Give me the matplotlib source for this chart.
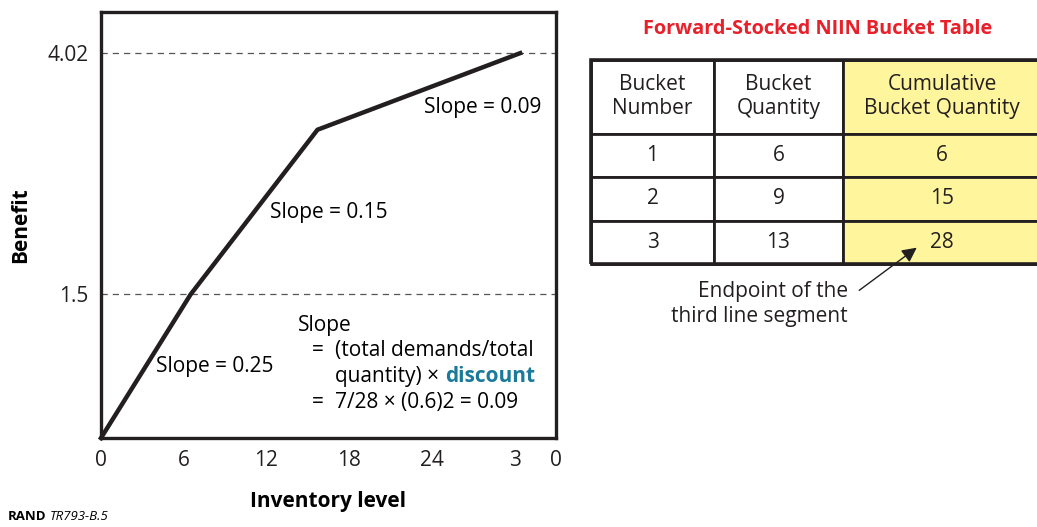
import matplotlib.pyplot as plt
from matplotlib.patches import Rectangle, FancyArrowPatch

plt.rcParams["font.family"] = ["Open Sans", "DejaVu Sans"]

# piecewise benefit curve
inv_level = [0, 6.5, 15.7, 30.4]
benefit = [0, 1.5, 3.22, 4.02]
ref_levels = [1.5, 4.02]

x_ticks = [0, 6, 12, 18, 24, 30, 33]
x_tick_labels = ["0", "6", "12", "18", "24", "3", "0"]

# bucket table
col_headers = ["Bucket\nNumber", "Bucket\nQuantity", "Cumulative\nBucket Quantity"]
bucket_number = ["1", "2", "3"]
bucket_qty = ["6", "9", "13"]
cum_qty = ["6", "15", "28"]

W, H = 1037, 527
fig = plt.figure(figsize=(W / 100, H / 100), dpi=100)
ax = fig.add_axes([101 / W, 1 - 438 / H, 455 / W, 426 / H])

ax.plot(inv_level, benefit, color="#231f20", lw=3.2, solid_joinstyle="miter",
        clip_on=False, zorder=3)
for lvl in ref_levels:
    ax.axhline(lvl, color="#555555", lw=0.9, ls=(0, (5, 4)), zorder=1)

fs = 15

ax.set_xlim(0, 33)
ax.set_ylim(0, 4.45)
ax.set_xticks(x_ticks)
ax.set_xticklabels(x_tick_labels)
ax.set_yticks(ref_levels)
ax.set_yticklabels(["1.5", "4.02"])
ax.tick_params(length=0, labelsize=fs, pad=9, colors="#231f20")
for sp in ax.spines.values():
    sp.set_linewidth(2.4)
    sp.set_color("#231f20")
ax.set_xlabel("Inventory level", fontsize=fs, fontweight="bold", labelpad=14)
ax.set_ylabel("Benefit", fontsize=fs, fontweight="bold", labelpad=12)

ax.text(23.4, 3.45, "Slope = 0.09", fontsize=fs, va="center")
ax.text(12.25, 2.36, "Slope = 0.15", fontsize=fs, va="center")
ax.text(4.0, 0.75, "Slope = 0.25", fontsize=fs, va="center")
ax.text(14.3, 1.17, "Slope", fontsize=fs, va="center")
ax.text(15.3, 0.91, "=", fontsize=fs, va="center")
ax.text(17.0, 0.91, "(total demands/total", fontsize=fs, va="center")
t1 = ax.text(17.0, 0.64, "quantity) × ", fontsize=fs, va="center")
ax.annotate("discount", xy=(1, 0), xycoords=t1, va="bottom", fontsize=fs,
            fontweight="bold", color="#1b7a9c")
ax.text(15.3, 0.37, "=", fontsize=fs, va="center")
ax.text(17.0, 0.37, "7/28 × (0.6)2 = 0.09", fontsize=fs, va="center")

# table (right edge runs off the page as in the original)
fig.text(818 / W, 1 - 29 / H, "Forward-Stocked NIIN Bucket Table", color="#e8202a",
         fontsize=14.3, fontweight="bold", ha="center", va="center")
tab_ax = fig.add_axes([591 / W, 1 - 264 / H, 450 / W, 204 / H])
tab_ax.axis("off")
rows = [list(r) for r in zip(bucket_number, bucket_qty, cum_qty)]
tbl = tab_ax.table(cellText=rows, colLabels=col_headers, cellLoc="center",
                   colWidths=[123, 129, 198], bbox=[0, 0, 1, 1])
tbl.auto_set_font_size(False)
tbl.set_fontsize(fs)
for (r, c), cell in tbl.get_celld().items():
    cell.set_linewidth(2)
    cell.set_edgecolor("#231f20")
    cell.set_height(73 if r == 0 else 43)
    if c == 2:
        cell.set_facecolor("#fff59d")
    cell.get_text().set_color("#231f20")
tab_ax.add_patch(Rectangle((0, 0), 1, 1, transform=tab_ax.transAxes, fill=False,
                           lw=2.6, edgecolor="#231f20", clip_on=False, zorder=5))

fig.text(848 / W, 1 - 304 / H, "Endpoint of the\nthird line segment", fontsize=fs,
         ha="right", va="center", multialignment="right", color="#231f20")
fig.add_artist(FancyArrowPatch(
    (857 / W, 1 - 292 / H), (919 / W, 1 - 246 / H), transform=fig.transFigure,
    arrowstyle="-|>", mutation_scale=22, lw=1, color="#231f20"))

fig.text(8 / W, 1 - 517 / H, "RAND", fontsize=9.5, fontweight="bold", va="center")
fig.text(50 / W, 1 - 517 / H, "TR793-B.5", fontsize=9.5, style="italic", va="center")

fig.savefig("out.png", dpi=100)
